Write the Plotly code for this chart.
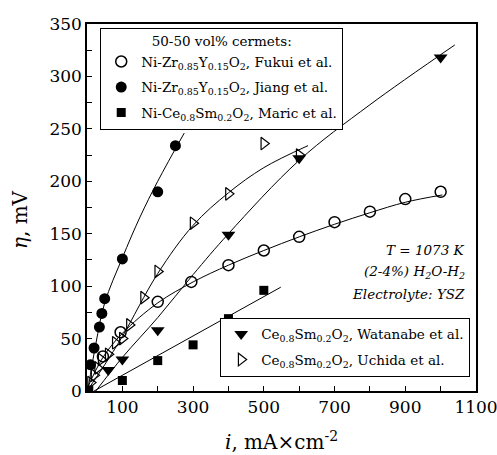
import plotly.graph_objects as go

# ---- data ----
fukui_x = [45, 95, 200, 295, 400, 500, 600, 700, 800, 900, 1000]
fukui_y = [33, 56, 85, 104, 120, 134, 147, 161, 171, 183, 190]
jiang_x = [10, 20, 35, 42, 50, 100, 200, 250]
jiang_y = [25, 41, 61, 74, 88, 126, 190, 234]
maric_x = [5, 100, 200, 300, 400, 500]
maric_y = [1, 10, 29, 44, 69, 96]
watanabe_x = [60, 100, 200, 400, 600, 1000]
watanabe_y = [20, 30, 58, 149, 222, 318]
uchida_x = [10, 20, 30, 40, 60, 80, 100, 120, 160, 200, 300, 400, 500, 600]
uchida_y = [8, 15, 22, 30, 35, 46, 50, 63, 89, 114, 160, 188, 236, 225]

# fitted guide curves (knots)
fukui_fit_x = [0, 45, 100, 200, 300, 400, 500, 600, 700, 800, 900, 1005]
fukui_fit_y = [2, 32, 55, 84, 104, 120, 134, 147, 159, 170, 180, 187]
jiang_fit_x = [3, 25, 50, 100, 150, 200, 275]
jiang_fit_y = [2, 45, 84, 127, 166, 200, 246]
maric_fit_x = [20, 548]
maric_fit_y = [0, 99]
watanabe_fit_x = [25, 100, 200, 300, 400, 600, 800, 1040]
watanabe_fit_y = [0, 32, 70, 111, 150, 220, 273, 330]
uchida_fit_x = [0, 50, 100, 200, 300, 400, 500, 625]
uchida_fit_y = [0, 25, 52, 112, 158, 189, 213, 234]

x_tickvals = [100, 200, 300, 400, 500, 600, 700, 800, 900, 1000, 1100]
x_ticktext = ["100", "", "300", "", "500", "", "700", "", "900", "", "1100"]
y_tickvals = [0, 25, 50, 75, 100, 125, 150, 175, 200, 225, 250, 275, 300, 325, 350]
y_ticktext = ["0", "", "50", "", "100", "", "150", "", "200", "", "250", "", "300", "", "350"]

names = {
    "fukui": "Ni-Zr<sub>0.85</sub>Y<sub>0.15</sub>O<sub>2</sub>, Fukui et al.",
    "jiang": "Ni-Zr<sub>0.85</sub>Y<sub>0.15</sub>O<sub>2</sub>, Jiang et al.",
    "maric": "Ni-Ce<sub>0.8</sub>Sm<sub>0.2</sub>O<sub>2</sub>, Maric et al.",
    "watanabe": "Ce<sub>0.8</sub>Sm<sub>0.2</sub>O<sub>2</sub>, Watanabe et al.",
    "uchida": "Ce<sub>0.8</sub>Sm<sub>0.2</sub>O<sub>2</sub>, Uchida et al.",
}

SERIF = "DejaVu Serif"

fig = go.Figure()

line_style = dict(color="black", width=1, shape="spline", smoothing=1.0)
for fx, fy in [(fukui_fit_x, fukui_fit_y), (jiang_fit_x, jiang_fit_y),
               (maric_fit_x, maric_fit_y), (watanabe_fit_x, watanabe_fit_y),
               (uchida_fit_x, uchida_fit_y)]:
    fig.add_trace(go.Scatter(x=fx, y=fy, mode="lines", line=line_style,
                             showlegend=False, hoverinfo="skip"))

fig.add_trace(go.Scatter(x=fukui_x, y=fukui_y, mode="markers", name=names["fukui"],
                         marker=dict(symbol="circle-open", size=11, color="black",
                                     line=dict(width=1.5, color="black")),
                         legend="legend", legendgroup="g1"))
fig.add_trace(go.Scatter(x=jiang_x, y=jiang_y, mode="markers", name=names["jiang"],
                         marker=dict(symbol="circle", size=11, color="black"),
                         legend="legend", legendgroup="g2"))
fig.add_trace(go.Scatter(x=maric_x, y=maric_y, mode="markers", name=names["maric"],
                         marker=dict(symbol="square", size=9, color="black"),
                         legend="legend", legendgroup="g3"))
fig.add_trace(go.Scatter(x=watanabe_x, y=watanabe_y, mode="markers", name=names["watanabe"],
                         marker=dict(symbol="triangle-down", size=12, color="black"),
                         legend="legend2", legendgroup="g4"))
fig.add_trace(go.Scatter(x=uchida_x, y=uchida_y, mode="markers", name=names["uchida"],
                         marker=dict(symbol="triangle-right-open", size=11, color="black",
                                     line=dict(width=1.2, color="black")),
                         legend="legend2", legendgroup="g5"))

axis_common = dict(showline=True, mirror=True, linecolor="black", linewidth=1.5,
                   ticks="inside", ticklen=5, tickwidth=1, tickcolor="black",
                   showgrid=False, zeroline=False, automargin=False,
                   ticklabeloverflow="allow",
                   tickfont=dict(size=17, family=SERIF, color="black"))

fig.update_layout(
    width=497, height=455,
    margin=dict(l=87, r=21, t=24, b=64, autoexpand=False),
    plot_bgcolor="white", paper_bgcolor="white",
    font=dict(family=SERIF, color="black", size=13.5),
    xaxis=dict(range=[0, 1100], tickmode="array", tickvals=x_tickvals,
               ticktext=x_ticktext, **axis_common),
    yaxis=dict(range=[0, 350], tickmode="array", tickvals=y_tickvals,
               ticktext=y_ticktext, **axis_common),
    legend=dict(x=0.034, y=0.99, xanchor="left", yanchor="top",
                bordercolor="black", borderwidth=1, bgcolor="white",
                font=dict(size=13.5, family=SERIF),
                title=dict(text="50-50 vol% cermets:", side="top center",
                           font=dict(size=13.5, family=SERIF)),
                itemwidth=30, tracegroupgap=5),
    legend2=dict(x=0.985, y=0.039, xanchor="right", yanchor="bottom",
                 bordercolor="black", borderwidth=1, bgcolor="white",
                 font=dict(size=13.5, family=SERIF),
                 itemwidth=30, tracegroupgap=5),
    annotations=[
        dict(text="<i>i</i>, mA×cm<sup>-2</sup>", xref="paper", yref="paper",
             x=0.5, y=-0.135, xanchor="center", yanchor="middle", showarrow=False,
             font=dict(size=20, family=SERIF)),
        dict(text="<i>η</i>, mV", xref="paper", yref="paper", textangle=-90,
             x=-0.172, y=0.466, xanchor="center", yanchor="middle", showarrow=False,
             font=dict(size=20, family=SERIF)),
        dict(text="<i>T = 1073 K</i>", xref="paper", yref="paper",
             x=0.976, y=0.384, xanchor="right", yanchor="middle", showarrow=False,
             font=dict(size=13.5, family=SERIF)),
        dict(text="<i>(2-4%) H<sub>2</sub>O-H<sub>2</sub></i>", xref="paper", yref="paper",
             x=0.976, y=0.324, xanchor="right", yanchor="middle", showarrow=False,
             font=dict(size=13.5, family=SERIF)),
        dict(text="<i>Electrolyte: YSZ</i>", xref="paper", yref="paper",
             x=0.976, y=0.264, xanchor="right", yanchor="middle", showarrow=False,
             font=dict(size=13.5, family=SERIF)),
    ],
)

fig.write_html("out.html")
